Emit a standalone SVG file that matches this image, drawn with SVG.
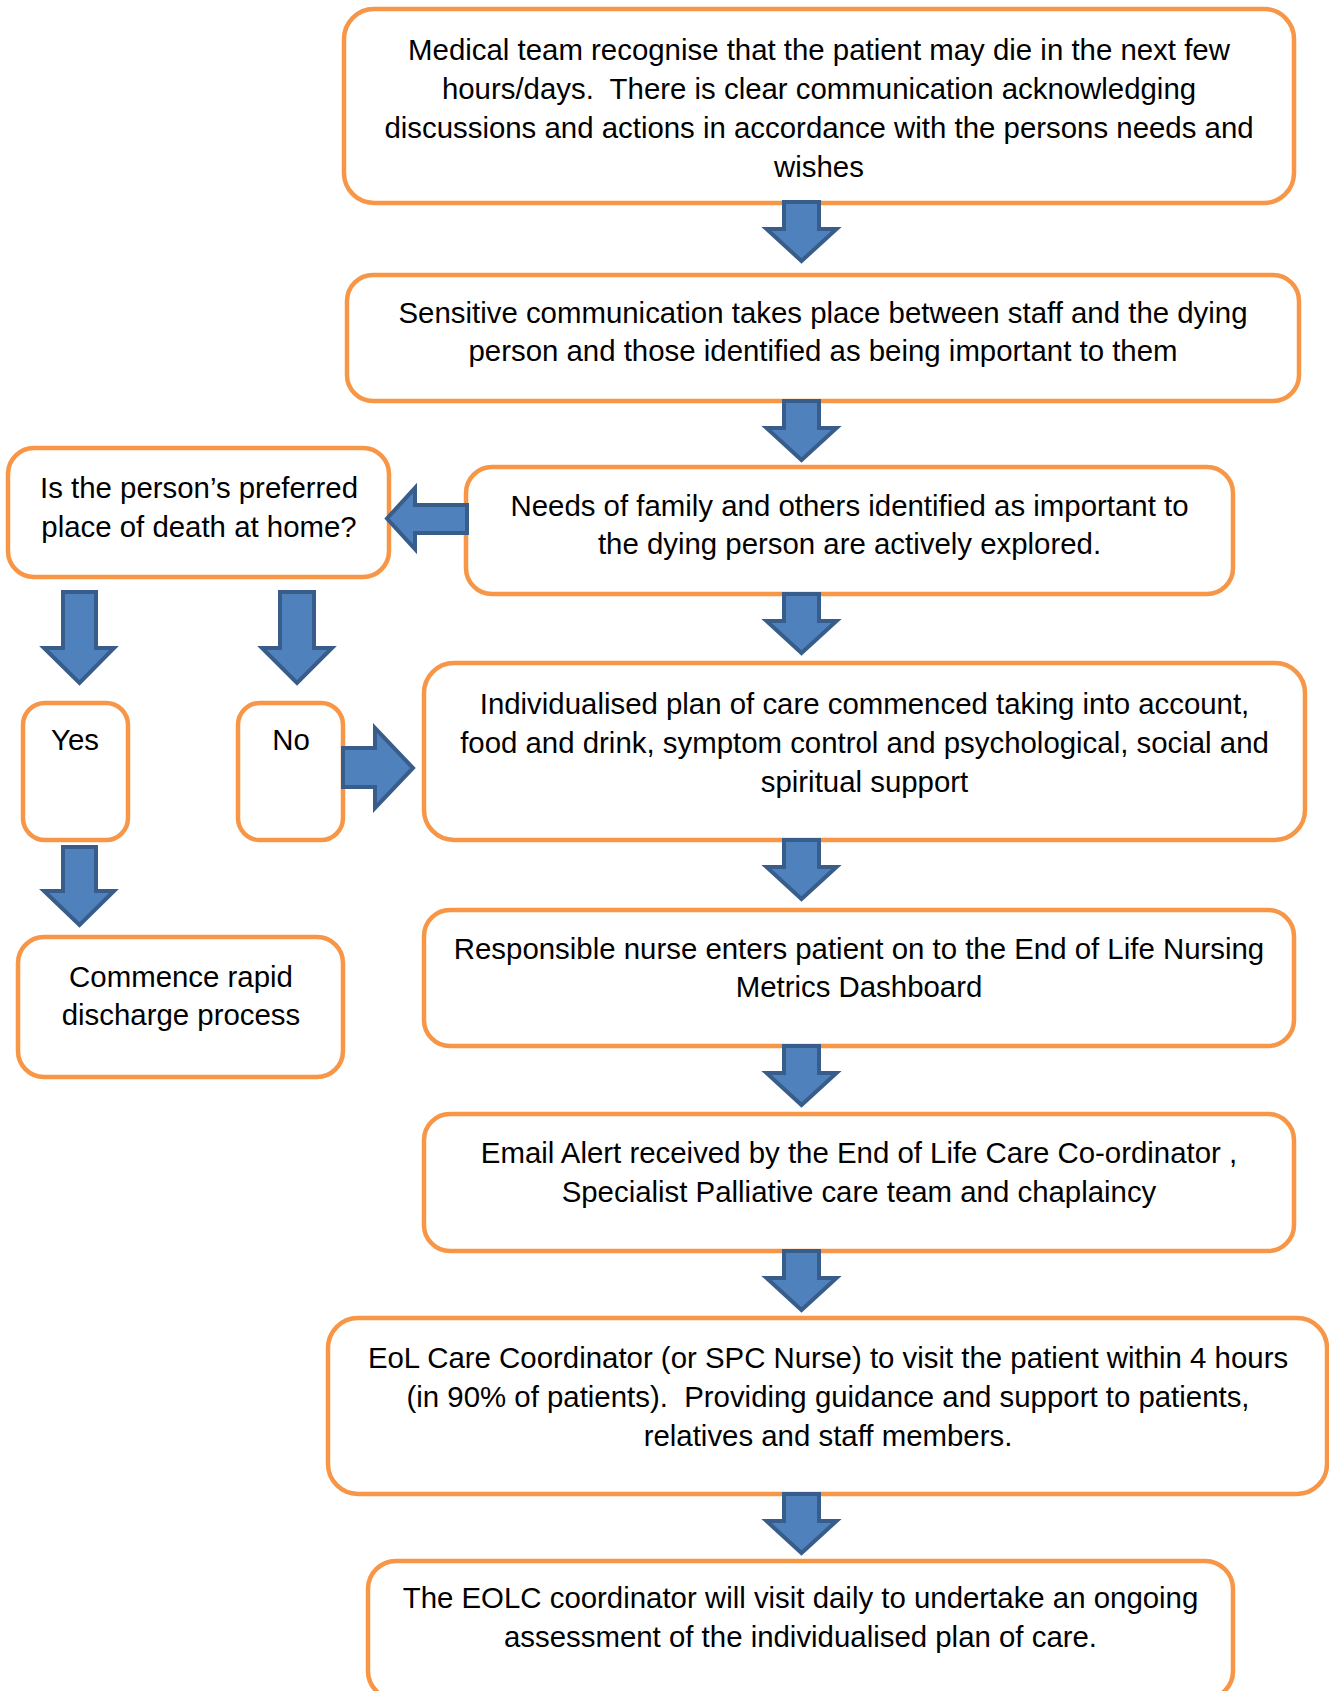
<svg xmlns="http://www.w3.org/2000/svg" xmlns:xlink="http://www.w3.org/1999/xlink" width="1329" height="1691" viewBox="0 0 1329 1691">
<style>
.box{fill:#FFFFFF;stroke:#F79646;stroke-width:4.5}
.arr{fill:#4F81BD;stroke:#385D8A;stroke-width:4;stroke-linejoin:miter}
.t{font-family:"Liberation Sans",Arial,sans-serif;font-size:29.4px;fill:#000000;text-anchor:middle;white-space:pre}
</style>
<defs>
<path id="down" d="M -17.5 0 H 17.5 V 27 H 35 L 0 59 L -35 27 H -17.5 Z"/>
</defs>
<rect width="1329" height="1691" fill="#FFFFFF"/>
<g id="n1">
<rect class="box" x="344" y="9" width="950" height="194" rx="30"/>
<text class="t" xml:space="preserve"><tspan x="819" y="60">Medical team recognise that the patient may die in the next few</tspan><tspan x="819" y="99">hours/days.  There is clear communication acknowledging</tspan><tspan x="819" y="138">discussions and actions in accordance with the persons needs and</tspan><tspan x="819" y="177">wishes</tspan></text>
</g>
<g id="n2">
<rect class="box" x="347" y="275" width="952" height="126" rx="26"/>
<text class="t"><tspan x="823" y="323">Sensitive communication takes place between staff and the dying</tspan><tspan x="823" y="361">person and those identified as being important to them</tspan></text>
</g>
<g id="n3">
<rect class="box" x="466" y="467" width="767" height="127" rx="26"/>
<text class="t"><tspan x="849.5" y="516">Needs of family and others identified as important to</tspan><tspan x="849.5" y="554">the dying person are actively explored.</tspan></text>
</g>
<g id="decision">
<rect class="box" x="8" y="448" width="381" height="129" rx="26"/>
<text class="t"><tspan x="199" y="498">Is the person’s preferred</tspan><tspan x="199" y="537">place of death at home?</tspan></text>
</g>
<g id="yes">
<rect class="box" x="23" y="703" width="105" height="137" rx="22"/>
<text class="t" x="75" y="750">Yes</text>
</g>
<g id="no">
<rect class="box" x="238" y="703" width="105" height="137" rx="22"/>
<text class="t" x="291" y="750">No</text>
</g>
<g id="discharge">
<rect class="box" x="18" y="937" width="325" height="140" rx="26"/>
<text class="t"><tspan x="181" y="987">Commence rapid</tspan><tspan x="181" y="1025">discharge process</tspan></text>
</g>
<g id="n4">
<rect class="box" x="424" y="663" width="881" height="177" rx="30"/>
<text class="t"><tspan x="864.5" y="714">Individualised plan of care commenced taking into account,</tspan><tspan x="864.5" y="753">food and drink, symptom control and psychological, social and</tspan><tspan x="864.5" y="792">spiritual support</tspan></text>
</g>
<g id="n5">
<rect class="box" x="424" y="910" width="870" height="136" rx="26"/>
<text class="t"><tspan x="859" y="959">Responsible nurse enters patient on to the End of Life Nursing</tspan><tspan x="859" y="997">Metrics Dashboard</tspan></text>
</g>
<g id="n6">
<rect class="box" x="424" y="1114" width="870" height="137" rx="26"/>
<text class="t"><tspan x="859" y="1163">Email Alert received by the End of Life Care Co-ordinator ,</tspan><tspan x="859" y="1202">Specialist Palliative care team and chaplaincy</tspan></text>
</g>
<g id="n7">
<rect class="box" x="328" y="1318" width="999" height="176" rx="30"/>
<text class="t" xml:space="preserve"><tspan x="828" y="1368">EoL Care Coordinator (or SPC Nurse) to visit the patient within 4 hours</tspan><tspan x="828" y="1407">(in 90% of patients).  Providing guidance and support to patients,</tspan><tspan x="828" y="1446">relatives and staff members.</tspan></text>
</g>
<g id="n8">
<rect class="box" x="368" y="1561" width="865" height="138" rx="28"/>
<text class="t"><tspan x="800.5" y="1608">The EOLC coordinator will visit daily to undertake an ongoing</tspan><tspan x="800.5" y="1647">assessment of the individualised plan of care.</tspan></text>
</g>
<g id="connectors">
<use class="arr" href="#down" xlink:href="#down" x="801.5" y="202"/>
<use class="arr" href="#down" xlink:href="#down" x="801.5" y="401"/>
<use class="arr" href="#down" xlink:href="#down" x="801.5" y="594"/>
<use class="arr" href="#down" xlink:href="#down" x="801.5" y="840"/>
<use class="arr" href="#down" xlink:href="#down" x="801.5" y="1046"/>
<use class="arr" href="#down" xlink:href="#down" x="801.5" y="1251"/>
<use class="arr" href="#down" xlink:href="#down" x="801.5" y="1494"/>
<path class="arr" d="M 467 505 V 533 H 415 V 549 L 387 518.5 L 415 488 V 505 Z"/>
<path class="arr" d="M 63 592 H 96 V 648 H 114 L 79.5 683 L 44 648 H 63 Z"/>
<path class="arr" d="M 280 592 H 314 V 648 H 332 L 297 683 L 262 648 H 280 Z"/>
<path class="arr" d="M 63 847 H 96 V 891 H 114 L 79.5 925 L 44 891 H 63 Z"/>
<path class="arr" d="M 343 748 H 375 V 728 L 413 768 L 375 808 V 787 H 343 Z"/>
</g>
</svg>
